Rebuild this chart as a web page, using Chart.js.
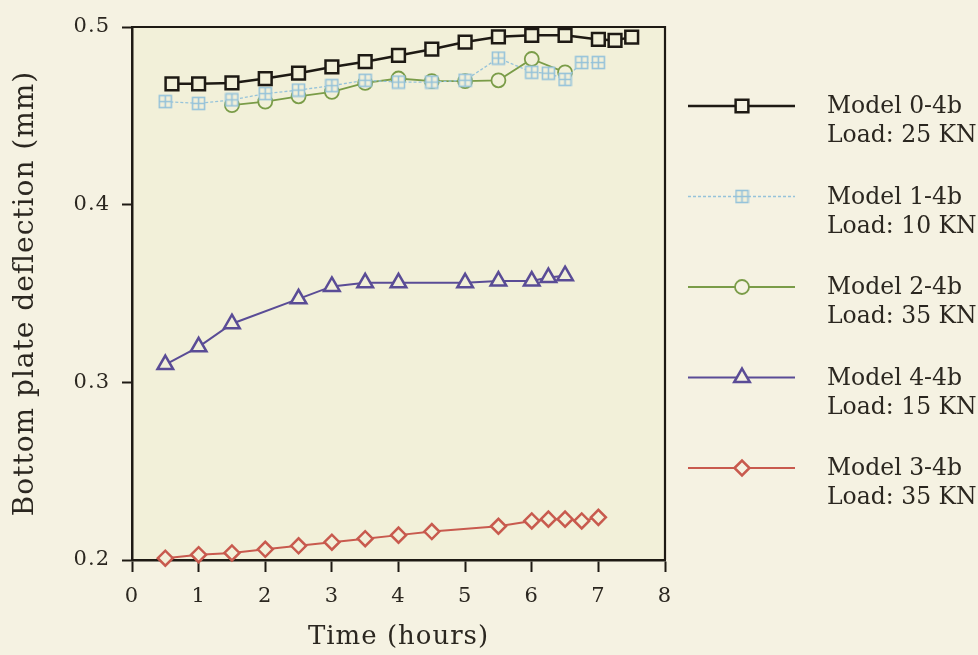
<!DOCTYPE html>
<html>
<head>
<meta charset="utf-8">
<script src="https://cdn.jsdelivr.net/npm/chart.js@4"></script>
<style>
  html, body { margin: 0; padding: 0; background: #f5f2e2; }
</style>
</head>
<body>
<canvas id="chart" width="978" height="655"></canvas>
<script>
// deflection readings (mm) against time (hours)
const model0Hours = [0.6, 1, 1.5, 2, 2.5, 3, 3.5, 4, 4.5, 5, 5.5, 6, 6.5, 7, 7.25, 7.5];
const model0Defl  = [0.468, 0.468, 0.4685, 0.471, 0.474, 0.4775, 0.4805, 0.484, 0.4875, 0.4915, 0.4945, 0.4953, 0.4953, 0.493, 0.4925, 0.4943];

const model1Hours = [0.5, 1, 1.5, 2, 2.5, 3, 3.5, 4, 4.5, 5, 5.5, 6, 6.25, 6.5, 6.75, 7];
const model1Defl  = [0.458, 0.457, 0.459, 0.4625, 0.4645, 0.467, 0.470, 0.469, 0.469, 0.470, 0.4825, 0.4745, 0.474, 0.4705, 0.480, 0.480];

const model2Hours = [1.5, 2, 2.5, 3, 3.5, 4, 4.5, 5, 5.5, 6, 6.5];
const model2Defl  = [0.456, 0.458, 0.461, 0.4635, 0.4685, 0.471, 0.4695, 0.4695, 0.470, 0.482, 0.4745];

const model4Hours = [0.5, 1, 1.5, 2.5, 3, 3.5, 4, 5, 5.5, 6, 6.25, 6.5];
const model4Defl  = [0.310, 0.320, 0.333, 0.347, 0.354, 0.356, 0.356, 0.356, 0.357, 0.357, 0.359, 0.360];

const model3Hours = [0.5, 1, 1.5, 2, 2.5, 3, 3.5, 4, 4.5, 5.5, 6, 6.25, 6.5, 6.75, 7];
const model3Defl  = [0.201, 0.203, 0.204, 0.206, 0.208, 0.210, 0.212, 0.214, 0.216, 0.219, 0.222, 0.223, 0.223, 0.222, 0.224];

const seriesNames = ['Model 0-4b', 'Model 1-4b', 'Model 2-4b', 'Model 4-4b', 'Model 3-4b'];
const seriesLoads = ['Load: 25 KN', 'Load: 10 KN', 'Load: 35 KN', 'Load: 15 KN', 'Load: 35 KN'];

const xTicks = [0, 1, 2, 3, 4, 5, 6, 7, 8];
const yTicks = [0.2, 0.3, 0.4, 0.5];

const pageBg = '#f5f2e2';
const plotBg = '#f2f0d9';
const ink = '#1e1a14';
const textInk = '#2b2720';
const fontFamily = '"DejaVu Serif", "Liberation Serif", serif';

const pairs = (xs, ys) => xs.map((x, i) => ({ x: x, y: ys[i] }));

// small square split in four, used for Model 1-4b
function gridSquare(color, fill) {
  const c = document.createElement('canvas');
  c.width = 15; c.height = 15;
  const g = c.getContext('2d');
  g.fillStyle = fill;
  g.fillRect(1.5, 1.5, 12, 12);
  g.strokeStyle = color;
  g.lineWidth = 1.6;
  g.strokeRect(1.5, 1.5, 12, 12);
  g.beginPath();
  g.moveTo(7.5, 1.5); g.lineTo(7.5, 13.5);
  g.moveTo(1.5, 7.5); g.lineTo(13.5, 7.5);
  g.stroke();
  return c;
}

const blue = '#96c3da';

const datasets = [
  {
    label: seriesNames[0], data: pairs(model0Hours, model0Defl),
    borderColor: ink, borderWidth: 2.5,
    pointStyle: 'rect', pointRadius: 9, pointBorderWidth: 2.5,
    pointBorderColor: ink, pointBackgroundColor: plotBg
  },
  {
    label: seriesNames[1], data: pairs(model1Hours, model1Defl),
    borderColor: blue, borderWidth: 1.3, borderDash: [3, 2],
    pointStyle: gridSquare(blue, plotBg), pointRadius: 7, pointBorderWidth: 1.5,
    pointBorderColor: blue, pointBackgroundColor: plotBg
  },
  {
    label: seriesNames[2], data: pairs(model2Hours, model2Defl),
    borderColor: '#7a9c48', borderWidth: 1.8,
    pointStyle: 'circle', pointRadius: 7, pointBorderWidth: 1.8,
    pointBorderColor: '#7a9c48', pointBackgroundColor: plotBg
  },
  {
    label: seriesNames[3], data: pairs(model4Hours, model4Defl),
    borderColor: '#5a4c96', borderWidth: 2,
    pointStyle: 'triangle', pointRadius: 9, pointBorderWidth: 2.5,
    pointBorderColor: '#5a4c96', pointBackgroundColor: plotBg
  },
  {
    label: seriesNames[4], data: pairs(model3Hours, model3Defl),
    borderColor: '#c85a4e', borderWidth: 2,
    pointStyle: 'rectRot', pointRadius: 7.5, pointBorderWidth: 2.5,
    pointBorderColor: '#c85a4e', pointBackgroundColor: plotBg
  }
];
datasets.forEach(d => { d.clip = false; d.tension = 0; d.fill = false; });

// page colour, plot panel and its top/right frame
const panel = {
  id: 'panel',
  beforeDraw(chart) {
    const { ctx, chartArea: a } = chart;
    ctx.save();
    ctx.fillStyle = pageBg;
    ctx.fillRect(0, 0, chart.width, chart.height);
    ctx.fillStyle = plotBg;
    ctx.fillRect(a.left, a.top, a.right - a.left, a.bottom - a.top);
    ctx.restore();
    // the axis lettering is set a little wide
    ctx.letterSpacing = '1px';
  },
  beforeDatasetsDraw(chart) {
    const { ctx, chartArea: a } = chart;
    ctx.letterSpacing = '0px';
    ctx.save();
    ctx.strokeStyle = ink;
    ctx.lineWidth = 2.2;
    ctx.beginPath();
    ctx.moveTo(a.left, a.top);
    ctx.lineTo(a.right, a.top);
    ctx.lineTo(a.right, a.bottom);
    ctx.stroke();
    ctx.restore();
  }
};

// two-line legend on the right hand side
const sideLegend = {
  id: 'sideLegend',
  afterDraw(chart) {
    const { ctx, chartArea: a } = chart;
    const lineX0 = a.right + 23, lineX1 = a.right + 130, markX = a.right + 77;
    const textX = a.right + 162;
    chart.data.datasets.forEach((ds, i) => {
      const y = 106 + i * 90.5;
      ctx.save();
      ctx.strokeStyle = ds.borderColor;
      ctx.lineWidth = ds.borderWidth;
      ctx.setLineDash(ds.borderDash || []);
      ctx.beginPath();
      ctx.moveTo(lineX0, y);
      ctx.lineTo(lineX1, y);
      ctx.stroke();
      ctx.setLineDash([]);
      ctx.fillStyle = pageBg;
      ctx.strokeStyle = ds.pointBorderColor;
      ctx.lineWidth = ds.pointBorderWidth;
      Chart.helpers.drawPoint(ctx, {
        pointStyle: ds.pointStyle, radius: ds.pointRadius,
        rotation: 0, borderWidth: ds.pointBorderWidth
      }, markX, y);
      ctx.fillStyle = textInk;
      ctx.font = '23.5px ' + fontFamily;
      ctx.textBaseline = 'middle';
      ctx.textAlign = 'left';
      ctx.fillText(ds.label, textX, y + 1);
      ctx.fillText(seriesLoads[i], textX, y + 30);
      ctx.restore();
    });
  }
};

new Chart(document.getElementById('chart'), {
  type: 'line',
  data: { datasets: datasets },
  options: {
    responsive: false,
    animation: false,
    events: [],
    layout: { padding: { top: 27, right: 313, bottom: 0, left: 0 } },
    plugins: { legend: { display: false }, tooltip: { enabled: false } },
    scales: {
      x: {
        type: 'linear', min: 0, max: 8,
        afterBuildTicks: s => { s.ticks = xTicks.map(v => ({ value: v })); },
        afterFit: s => { s.height = 95; },
        grid: { drawOnChartArea: false, tickLength: 12, tickWidth: 2, color: ink },
        border: { display: true, width: 2.5, color: ink },
        ticks: {
          padding: 12, color: textInk, maxRotation: 0,
          font: { family: fontFamily, size: 21 },
          callback: v => String(v)
        },
        title: {
          display: true, text: 'Time (hours)', color: textInk,
          font: { family: fontFamily, size: 26 },
          padding: { top: 0, bottom: 2 }
        }
      },
      y: {
        type: 'linear', min: 0.2, max: 0.5,
        afterBuildTicks: s => { s.ticks = yTicks.map(v => ({ value: v })); },
        afterFit: s => { s.width = 132; },
        grid: { drawOnChartArea: false, tickLength: 10, tickWidth: 2, color: ink },
        border: { display: true, width: 2.5, color: ink },
        ticks: {
          padding: 12, color: textInk,
          font: { family: fontFamily, size: 21 },
          callback: v => v.toFixed(1)
        },
        title: {
          display: true, text: 'Bottom plate deflection (mm)', color: textInk,
          font: { family: fontFamily, size: 28 },
          padding: { top: 9, bottom: 0 }
        }
      }
    }
  },
  plugins: [panel, sideLegend]
});
</script>
</body>
</html>
